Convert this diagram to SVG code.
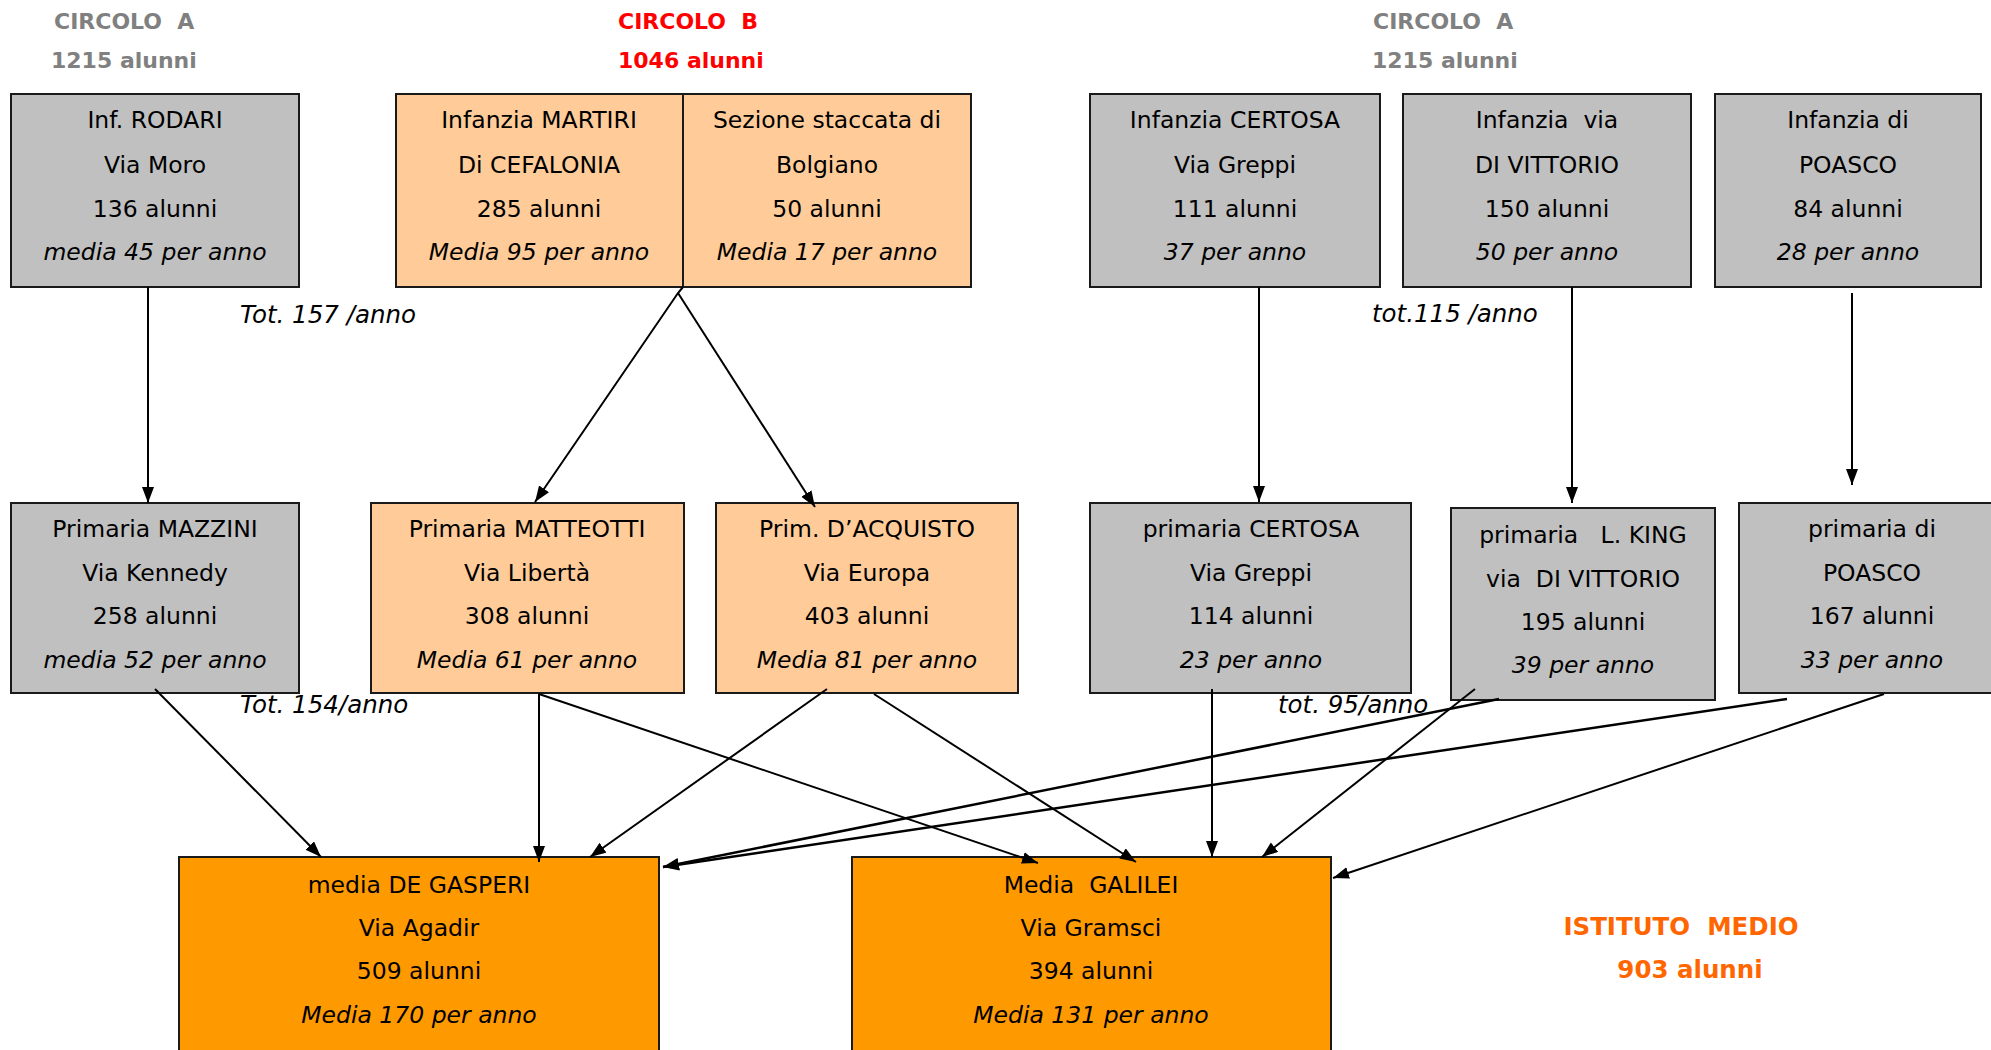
<svg xmlns="http://www.w3.org/2000/svg" width="1991" height="1050" viewBox="0 0 1991 1050">
<defs>
<marker id="ah" markerUnits="userSpaceOnUse" markerWidth="18" markerHeight="14" refX="16" refY="6" orient="auto">
<path d="M0,0 L16,6 L0,12 z" fill="#000"/>
</marker>
<style>
text{font-family:"DejaVu Sans","Verdana",sans-serif;white-space:pre}
.t{font-size:23.5px;fill:#000;text-anchor:middle}
.i{font-style:italic}
.h{font-size:22px;font-weight:bold}
.gray{fill:#808080}
.red{fill:#FF0000}
.org{fill:#FF6600;font-size:24.5px;font-weight:bold}
.lbl{font-size:24.5px;font-style:italic;fill:#000}
.box{stroke:#1a1a1a;stroke-width:2}
.g{fill:#C0C0C0}
.lo{fill:#FFCC99}
.o{fill:#FF9900}
.c{fill:none;stroke:#000;stroke-width:2;marker-end:url(#ah)}
</style>
</defs>
<rect width="1991" height="1050" fill="#fff"/>

<g id="titles">
<text class="h gray" x="54" y="29">CIRCOLO  A</text>
<text class="h gray" x="51" y="68">1215 alunni</text>
<text class="h red" x="618" y="29">CIRCOLO  B</text>
<text class="h red" x="618" y="68">1046 alunni</text>
<text class="h gray" x="1373" y="29">CIRCOLO  A</text>
<text class="h gray" x="1372" y="68">1215 alunni</text>
<text class="org" x="1681" y="935" text-anchor="middle">ISTITUTO  MEDIO</text>
<text class="org" x="1690" y="978" text-anchor="middle">903 alunni</text>
</g>

<g id="labels">
<text class="lbl" x="240" y="323">Tot. 157 /anno</text>
<text class="lbl" x="1372" y="322">tot.115 /anno</text>
<text class="lbl" x="240" y="713">Tot. 154/anno</text>
<text class="lbl" x="1278" y="713">tot. 95/anno</text>
</g>

<g id="inf-rodari">
<rect class="box g" x="11" y="94" width="288" height="193"/>
<text class="t" x="155" y="128">Inf. RODARI</text>
<text class="t" x="155" y="173">Via Moro</text>
<text class="t" x="155" y="217">136 alunni</text>
<text class="t i" x="155" y="260">media 45 per anno</text>
</g>

<g id="inf-martiri">
<rect class="box lo" x="396" y="94" width="287" height="193"/>
<text class="t" x="539" y="128">Infanzia MARTIRI</text>
<text class="t" x="539" y="173">Di CEFALONIA</text>
<text class="t" x="539" y="217">285 alunni</text>
<text class="t i" x="539" y="260">Media 95 per anno</text>
</g>

<g id="sez-bolgiano">
<rect class="box lo" x="683" y="94" width="288" height="193"/>
<text class="t" x="827" y="128">Sezione staccata di</text>
<text class="t" x="827" y="173">Bolgiano</text>
<text class="t" x="827" y="217">50 alunni</text>
<text class="t i" x="827" y="260">Media 17 per anno</text>
</g>

<g id="inf-certosa">
<rect class="box g" x="1090" y="94" width="290" height="193"/>
<text class="t" x="1235" y="128">Infanzia CERTOSA</text>
<text class="t" x="1235" y="173">Via Greppi</text>
<text class="t" x="1235" y="217">111 alunni</text>
<text class="t i" x="1235" y="260">37 per anno</text>
</g>

<g id="inf-divittorio">
<rect class="box g" x="1403" y="94" width="288" height="193"/>
<text class="t" x="1547" y="128">Infanzia  via</text>
<text class="t" x="1547" y="173">DI VITTORIO</text>
<text class="t" x="1547" y="217">150 alunni</text>
<text class="t i" x="1547" y="260">50 per anno</text>
</g>

<g id="inf-poasco">
<rect class="box g" x="1715" y="94" width="266" height="193"/>
<text class="t" x="1848" y="128">Infanzia di</text>
<text class="t" x="1848" y="173">POASCO</text>
<text class="t" x="1848" y="217">84 alunni</text>
<text class="t i" x="1848" y="260">28 per anno</text>
</g>

<g id="prim-mazzini">
<rect class="box g" x="11" y="503" width="288" height="190"/>
<text class="t" x="155" y="537">Primaria MAZZINI</text>
<text class="t" x="155" y="581">Via Kennedy</text>
<text class="t" x="155" y="624">258 alunni</text>
<text class="t i" x="155" y="668">media 52 per anno</text>
</g>

<g id="prim-matteotti">
<rect class="box lo" x="371" y="503" width="313" height="190"/>
<text class="t" x="527" y="537">Primaria MATTEOTTI</text>
<text class="t" x="527" y="581">Via Libertà</text>
<text class="t" x="527" y="624">308 alunni</text>
<text class="t i" x="527" y="668">Media 61 per anno</text>
</g>

<g id="prim-dacquisto">
<rect class="box lo" x="716" y="503" width="302" height="190"/>
<text class="t" x="867" y="537">Prim. D’ACQUISTO</text>
<text class="t" x="867" y="581">Via Europa</text>
<text class="t" x="867" y="624">403 alunni</text>
<text class="t i" x="867" y="668">Media 81 per anno</text>
</g>

<g id="prim-certosa">
<rect class="box g" x="1090" y="503" width="321" height="190"/>
<text class="t" x="1251" y="537">primaria CERTOSA</text>
<text class="t" x="1251" y="581">Via Greppi</text>
<text class="t" x="1251" y="624">114 alunni</text>
<text class="t i" x="1251" y="668">23 per anno</text>
</g>

<g id="prim-king">
<rect class="box g" x="1451" y="508" width="264" height="192"/>
<text class="t" x="1583" y="543">primaria   L. KING</text>
<text class="t" x="1583" y="587">via  DI VITTORIO</text>
<text class="t" x="1583" y="630">195 alunni</text>
<text class="t i" x="1583" y="673">39 per anno</text>
</g>

<g id="prim-poasco">
<rect class="box g" x="1739" y="503" width="266" height="190"/>
<text class="t" x="1872" y="537">primaria di</text>
<text class="t" x="1872" y="581">POASCO</text>
<text class="t" x="1872" y="624">167 alunni</text>
<text class="t i" x="1872" y="668">33 per anno</text>
</g>

<g id="media-degasperi">
<rect class="box o" x="179" y="857" width="480" height="210"/>
<text class="t" x="419" y="893">media DE GASPERI</text>
<text class="t" x="419" y="936">Via Agadir</text>
<text class="t" x="419" y="979">509 alunni</text>
<text class="t i" x="419" y="1023">Media 170 per anno</text>
</g>

<g id="media-galilei">
<rect class="box o" x="852" y="857" width="479" height="210"/>
<text class="t" x="1091" y="893">Media  GALILEI</text>
<text class="t" x="1091" y="936">Via Gramsci</text>
<text class="t" x="1091" y="979">394 alunni</text>
<text class="t i" x="1091" y="1023">Media 131 per anno</text>
</g>

<g id="connectors">
<path class="c" d="M148,287 L148,503"/>
<path class="c" d="M683,287 L678,293 L535,502"/>
<path class="c" d="M678,293 L815,507"/>
<path class="c" d="M1259,287 L1259,502"/>
<path class="c" d="M1572,287 L1572,503"/>
<path class="c" d="M1852,293 L1852,485"/>
<path class="c" d="M155,689 L321,857"/>
<path class="c" d="M539,694 L539,862"/>
<path class="c" d="M539,694 L1038,863"/>
<path class="c" d="M827,689 L590,857"/>
<path class="c" d="M874,694 L1136,862"/>
<path class="c" d="M1212,689 L1212,857"/>
<path class="c" d="M1475,689 L1262,857"/>
<path class="c" d="M1884,694 L1333,878"/>
<path class="c" style="stroke-width:2.5" d="M1499,699 L663,867"/>
<path class="c" style="stroke-width:2.5" d="M1787,699 L663,867"/>
</g>
</svg>
